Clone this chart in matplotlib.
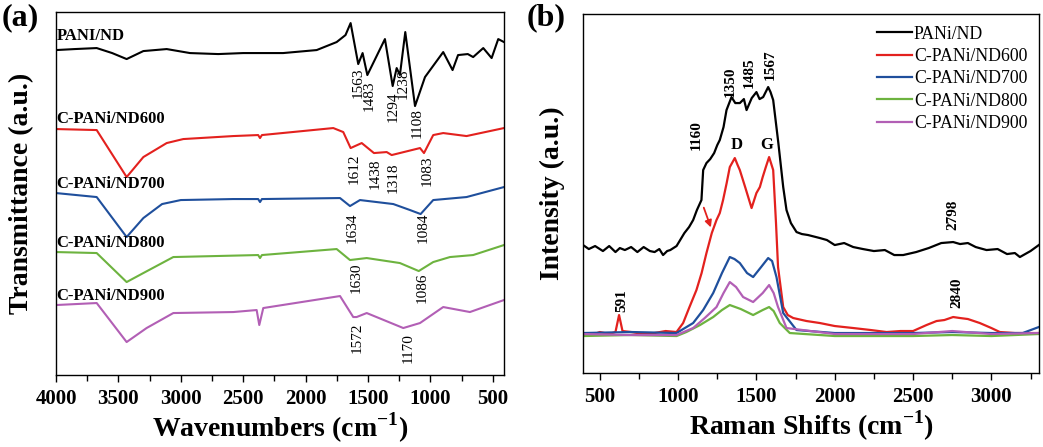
import matplotlib.pyplot as plt

plt.rcParams['font.family'] = ['Liberation Serif', 'DejaVu Serif']
plt.rcParams['mathtext.fontset'] = 'custom'
plt.rcParams['mathtext.rm'] = 'Liberation Serif'
plt.rcParams['mathtext.bf'] = 'Liberation Serif:bold'

# ---- (a) FTIR: wavenumber / transmittance (a.u.) ----
wn_pani = [4000, 3850, 3674, 3550, 3434, 3300, 3113, 2926, 2700, 2500, 2180, 1911, 1751, 1680,
           1639, 1578, 1543, 1505, 1364, 1302, 1270, 1244, 1201, 1123, 1043, 897, 822, 778,
           700, 657, 576, 509, 456, 410]
t_pani = [325, 326, 327, 322, 316, 324, 326, 322, 321, 322, 322, 325, 333, 340,
          352, 311, 322, 300, 336, 289, 307, 300, 343, 269, 298, 323, 305, 320,
          321, 318, 327, 317, 336, 333]

wn_600 = [4000, 3674, 3434, 3300, 3113, 2980, 2579, 2380, 2365, 2350, 1778, 1698, 1639, 1550,
          1452, 1350, 1310, 1083, 1051, 977, 897, 710, 410]
t_600 = [246, 245, 198, 218, 232, 236, 239, 240, 237, 240, 247, 243, 227, 232,
         222, 223, 220, 227, 222, 240, 242, 239, 247]

wn_700 = [4000, 3674, 3434, 3300, 3150, 3000, 2580, 2380, 2365, 2350, 1724, 1644, 1564,
          1297, 1163, 1078, 977, 710, 410]
t_700 = [182, 178, 138, 157, 171, 175, 176, 176, 173, 176, 177, 169, 175,
         171, 165, 161, 175, 178, 188]

wn_800 = [4000, 3674, 3434, 3300, 3060, 2380, 2365, 2350, 1751, 1644, 1510, 1244, 1093,
          977, 843, 657, 410]
t_800 = [123, 122, 93, 102, 118, 120, 117, 120, 126, 115, 117, 112, 104,
         113, 118, 120, 130]

wn_900 = [4000, 3674, 3434, 3274, 3060, 2579, 2392, 2371, 2339, 1724, 1618, 1591, 1510,
          1217, 1083, 897, 683, 410]
t_900 = [70, 72, 33, 47, 62, 63, 65, 50, 67, 79, 58, 58, 62,
         47, 52, 68, 63, 75]

ftir_names = ['PANI/ND', 'C-PANi/ND600', 'C-PANi/ND700', 'C-PANi/ND800', 'C-PANi/ND900']
ftir_name_y = [330, 247, 182, 123, 70]

# peak labels: (wavenumber, top y, text)
ftir_peaks = [(1580, 308, '1563'), (1492, 295, '1483'), (1300, 284, '1294'), (1220, 307, '1238'),
              (1107, 267, '1108'), (1612, 222, '1612'), (1444, 217, '1438'), (1300, 213, '1318'),
              (1027, 220, '1083'), (1628, 163, '1634'), (1059, 163, '1084'), (1596, 113, '1630'),
              (1067, 103, '1086'), (1588, 53, '1572'), (1179, 42, '1170')]

# ---- (b) Raman: shift / intensity (a.u.) ----
rs_pani = [393, 430, 470, 520, 560, 600, 628, 660, 700, 740, 780, 820, 850, 880, 904, 930, 950,
           990, 1040, 1070, 1096, 1120, 1149, 1160, 1181, 1205, 1230, 1250, 1266, 1290, 1309,
           1341, 1365, 1394, 1420, 1437, 1470, 1500, 1520, 1543, 1575, 1590, 1607, 1640, 1671,
           1692, 1720, 1756, 1790, 1830, 1905, 1950, 2000, 2060, 2118, 2180, 2250, 2320, 2380,
           2437, 2520, 2600, 2680, 2756, 2800, 2850, 2900, 2969, 3040, 3100, 3150, 3182, 3250,
           3303]
i_pani = [128, 124, 127, 122, 127, 121, 125, 123, 126, 121, 126, 122, 121, 124, 118, 122, 123,
          127, 140, 146, 153, 163, 173, 203, 210, 214, 220, 228, 233, 246, 263,
          276, 270, 270, 274, 263, 275, 281, 274, 276, 286, 281, 273, 230, 186,
          163, 150, 141, 139, 138, 135, 133, 128, 130, 126, 124, 122, 123, 118,
          118, 121, 125, 130, 131, 129, 130, 126, 123, 124, 119, 120, 116, 122,
          128]

rs_600 = [393, 450, 500, 560, 600, 623, 645, 700, 780, 850, 920, 990, 1032, 1070, 1117, 1150,
          1181, 1215, 1245, 1266, 1287, 1310, 1330, 1362, 1380, 1394, 1430, 1469, 1500, 1522,
          1540, 1560, 1581, 1607, 1625, 1638, 1671, 1700, 1735, 1820, 1905, 2000, 2118, 2230,
          2331, 2420, 2500, 2586, 2650, 2700, 2756, 2800, 2850, 2926, 3000, 3054, 3150, 3303]
i_600 = [40, 38, 41, 39, 41, 58, 42, 41, 39, 40, 42, 41, 50, 65, 83, 100,
         120, 140, 153, 160, 173, 190, 206, 215, 208, 203, 185, 165, 180, 186,
         196, 206, 216, 203, 150, 106, 66, 58, 55, 52, 50, 47, 45, 43,
         41, 42, 42, 48, 52, 53, 56, 55, 54, 50, 45, 41, 40, 40]

rs_700 = [393, 700, 990, 1096, 1160, 1224, 1280, 1330, 1360, 1394, 1440, 1479, 1530, 1575,
          1600, 1628, 1671, 1756, 2000, 2500, 2750, 3000, 3200, 3303]
i_700 = [40, 41, 40, 50, 63, 80, 100, 116, 114, 110, 100, 96, 106, 115,
         112, 96, 60, 43, 40, 40, 41, 40, 40, 46]

rs_800 = [393, 700, 990, 1053, 1140, 1224, 1280, 1330, 1400, 1479, 1540, 1581, 1610, 1649,
          1713, 2000, 2500, 2750, 3000, 3303]
i_800 = [37, 38, 37, 41, 48, 56, 63, 68, 64, 58, 63, 66, 62, 50,
         40, 37, 37, 38, 37, 39]

rs_900 = [393, 700, 990, 1096, 1170, 1245, 1290, 1330, 1370, 1415, 1479, 1540, 1581, 1610,
          1638, 1692, 2000, 2500, 2750, 3000, 3303]
i_900 = [39, 38, 38, 45, 55, 66, 80, 91, 86, 76, 71, 80, 88, 80,
         66, 45, 39, 39, 42, 39, 40]

raman_names = ['PANi/ND', 'C-PANi/ND600', 'C-PANi/ND700', 'C-PANi/ND800', 'C-PANi/ND900']
raman_peaks = [(1117, 223, '1160'), (1335, 276, '1350'), (1453, 285, '1485'), (1586, 293, '1567'),
               (2756, 143, '2798'), (2778, 65, '2840'), (639, 61, '591')]

colors = ['black', '#e3211e', '#1f4f9c', '#6db33f', '#b25fb5']

fig = plt.figure(figsize=(10.43, 4.47), dpi=100)
ax1 = fig.add_axes([0.0537, 0.161, 0.4295, 0.812])
ax2 = fig.add_axes([0.559, 0.1655, 0.437, 0.803])

# panel (a)
for wn, t, c in zip([wn_pani, wn_600, wn_700, wn_800, wn_900],
                    [t_pani, t_600, t_700, t_800, t_900], colors):
    ax1.plot(wn, t, color=c, lw=1.5)
for name, y in zip(ftir_names, ftir_name_y):
    ax1.text(3995, y + 1, name, fontsize=12, fontweight='bold', ha='left', va='bottom')
for wn, y, s in ftir_peaks:
    ax1.text(wn, y, s, fontsize=11, rotation=90, ha='center', va='top')
ax1.set_xlim(4000, 410)
ax1.set_ylim(0, 363)
ax1.set_xticks([4000, 3500, 3000, 2500, 2000, 1500, 1000, 500])
ax1.set_xticks(range(3750, 400, -500), minor=True)
ax1.set_yticks([])
ax1.set_xlabel('Wavenumbers (cm$^{\\mathbf{-1}}$)', fontsize=20, fontweight='bold', labelpad=1)
ax1.set_ylabel('Transmittance (a.u.)', fontsize=20, fontweight='bold', labelpad=16)
fig.text(2 / 1043, 1 - 3 / 447, '(a)', fontsize=23, fontweight='bold', ha='left', va='top')

# panel (b)
for rs, inten, c, name in zip([rs_pani, rs_600, rs_700, rs_800, rs_900],
                              [i_pani, i_600, i_700, i_800, i_900], colors, raman_names):
    ax2.plot(rs, inten, color=c, lw=1.6, label=name)
for rs, y, s in raman_peaks:
    ax2.text(rs, y, s, fontsize=11, fontweight='bold', rotation=90, ha='center', va='bottom')
ax2.text(1373, 220, 'D', fontsize=12, fontweight='bold', ha='center', va='bottom')
ax2.text(1564, 220, 'G', fontsize=12, fontweight='bold', ha='center', va='bottom')
ax2.annotate('', xy=(1215, 143), xytext=(1158, 168),
             arrowprops=dict(arrowstyle='-|>', color='#e3211e', lw=1.3, mutation_scale=10))
ax2.set_xlim(393, 3303)
ax2.set_ylim(0, 359)
ax2.set_xticks([500, 1000, 1500, 2000, 2500, 3000])
ax2.set_xticks(range(750, 3300, 500), minor=True)
ax2.set_yticks([])
ax2.set_xlabel('Raman Shifts (cm$^{\\mathbf{-1}}$)', fontsize=20, fontweight='bold', labelpad=1)
ax2.set_ylabel('Intensity (a.u.)', fontsize=20, fontweight='bold', labelpad=13)
fig.text(527 / 1043, 1 - 3 / 447, '(b)', fontsize=23, fontweight='bold', ha='left', va='top')
ax2.legend(loc='upper right', frameon=False, fontsize=12.8, handlelength=2.0,
           handletextpad=0.1, labelspacing=0.3, borderaxespad=0.25)

for ax in (ax1, ax2):
    ax.tick_params(axis='x', which='major', length=5, width=1, labelsize=15, pad=5)
    ax.tick_params(axis='x', which='minor', length=4, width=1)
    for lab in ax.get_xticklabels():
        lab.set_fontweight('bold')
    for sp in ax.spines.values():
        sp.set_linewidth(1)

fig.savefig('out.png', dpi=100)
